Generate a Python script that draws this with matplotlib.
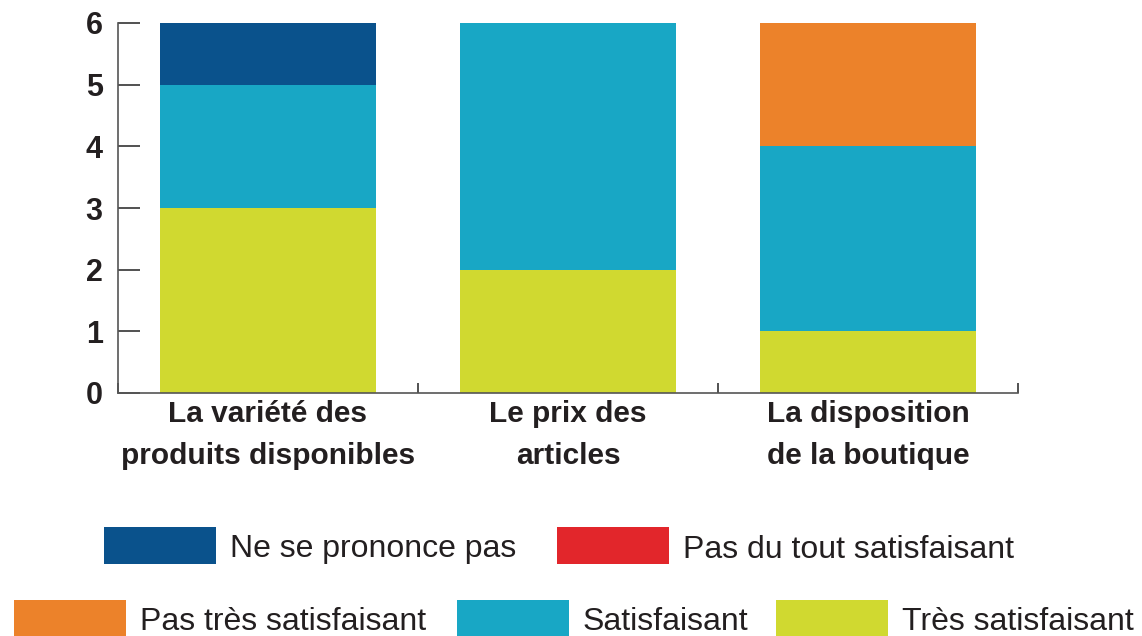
import matplotlib
matplotlib.use("Agg")
import matplotlib.pyplot as plt
from matplotlib.patches import Rectangle
import numpy as np

categories = ["La variété des\nproduits disponibles", "Le prix des\narticles", "La disposition\nde la boutique"]
series = ["Très satisfaisant", "Satisfaisant", "Pas très satisfaisant", "Pas du tout satisfaisant", "Ne se prononce pas"]
values = {
    "Très satisfaisant": [3, 2, 1],
    "Satisfaisant": [2, 4, 3],
    "Pas très satisfaisant": [0, 0, 2],
    "Pas du tout satisfaisant": [0, 0, 0],
    "Ne se prononce pas": [1, 0, 0],
}
colors = {
    "Très satisfaisant": "#D0D930",
    "Satisfaisant": "#18A7C5",
    "Pas très satisfaisant": "#EC822A",
    "Pas du tout satisfaisant": "#E2262B",
    "Ne se prononce pas": "#0A528C",
}
yticks = [0, 1, 2, 3, 4, 5, 6]

W, H = 1142, 636
fig = plt.figure(figsize=(W / 100, H / 100), dpi=100)
ax = fig.add_axes([118 / W, 1 - 393 / H, 900 / W, 370 / H])

x = np.arange(len(categories))
bottom = np.zeros(len(categories))
for s in series:
    v = np.array(values[s], dtype=float)
    ax.bar(x, v, bottom=bottom, width=0.723, color=colors[s], linewidth=0, zorder=2)
    bottom += v

ax.set_xlim(-0.5, len(categories) - 0.5)
ax.set_ylim(0, 6)
ax.set_yticks(yticks)
ax.set_yticklabels([str(t) for t in yticks], fontfamily="Liberation Sans", fontweight="bold", fontsize=22, color="#231F20")
ax.tick_params(axis="y", direction="in", length=16, width=1.2, color="#333333", pad=11)

ax.set_xticks(np.arange(-0.5, len(categories)), minor=False)
ax.set_xticklabels([])
ax.tick_params(axis="x", direction="in", length=7, width=1.2, color="#333333")
for xi, c in zip(x, categories):
    ax.text(xi, -0.02, c, transform=ax.get_xaxis_transform(), ha="center", va="top",
            fontfamily="Liberation Sans", fontweight="bold", fontsize=21.5, color="#231F20",
            linespacing=1.6)

for sp in ["top", "right"]:
    ax.spines[sp].set_visible(False)
for sp in ["left", "bottom"]:
    ax.spines[sp].set_color("#555555")
    ax.spines[sp].set_linewidth(1.2)

# legend (manual layout)
legend_rows = [
    [("Ne se prononce pas", 104), ("Pas du tout satisfaisant", 557)],
    [("Pas très satisfaisant", 14), ("Satisfaisant", 457), ("Très satisfaisant", 776)],
]
row_y = [527, 600]
sw_w, sw_h = 112, 37
for row, ytop in zip(legend_rows, row_y):
    for label, xl in row:
        fig.add_artist(Rectangle((xl / W, 1 - (ytop + sw_h) / H), sw_w / W, sw_h / H,
                                 transform=fig.transFigure, facecolor=colors[label], edgecolor="none"))
        fig.text((xl + sw_w + 14) / W, 1 - (ytop + sw_h / 2 + 4) / H, label,
                 ha="left", va="center", fontfamily="Liberation Sans",
                 fontsize=23, color="#231F20")

fig.savefig("out.png", dpi=100)
